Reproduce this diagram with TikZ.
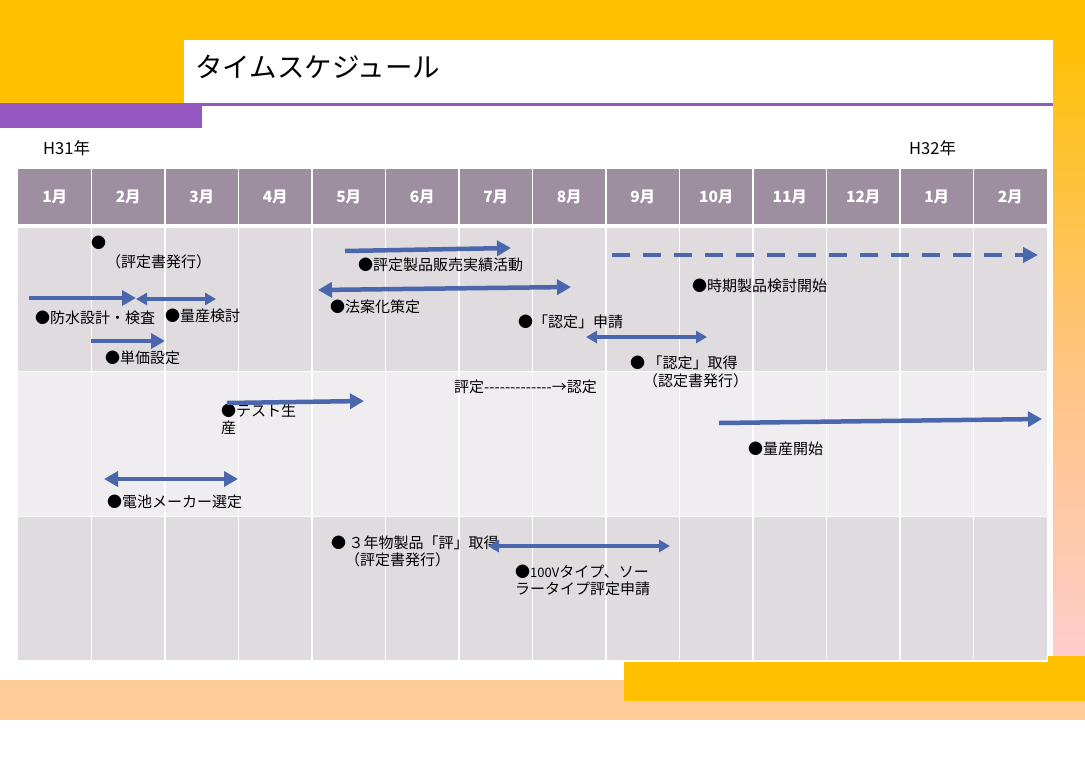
\documentclass[tikz,border=0pt]{standalone}
\usepackage{fontspec}
\newfontfamily\jp{Noto Sans CJK JP}
\usetikzlibrary{arrows.meta}
\definecolor{gold}{HTML}{FFC000}
\definecolor{purp}{HTML}{9457C2}
\definecolor{peach}{HTML}{FFCC99}
\definecolor{pinkc}{HTML}{FFCCCC}
\definecolor{midc}{HTML}{FFC47A}
\definecolor{hdr}{HTML}{9D8FA0}
\definecolor{rowa}{HTML}{DFDBDF}
\definecolor{rowb}{HTML}{EFEDF0}
\definecolor{arrowblue}{HTML}{4A67AE}
\tikzset{
  txt/.style={anchor=west, inner sep=0pt, text=black, font=\jp\fontsize{15}{18}\selectfont},
  hdrtxt/.style={inner sep=0pt, text=white, font=\jp\bfseries\fontsize{15.5}{18}\selectfont},
  bigarr/.style={draw=arrowblue, line width=4.5pt, -{Triangle[length=14pt,width=15pt]}},
  bigdarr/.style={draw=arrowblue, line width=4.5pt, {Triangle[length=14pt,width=15pt]}-{Triangle[length=14pt,width=15pt]}},
  thindarr/.style={draw=arrowblue, line width=3.5pt, {Triangle[length=11pt,width=12pt]}-{Triangle[length=11pt,width=12pt]}},
  dasharr/.style={draw=arrowblue, line width=4.5pt, dash pattern=on 18pt off 13pt, -{Triangle[length=15pt,width=15pt]}}
}
\begin{document}
\begin{tikzpicture}[x=1pt,y=-1pt]
\useasboundingbox (0,0) rectangle (1085,756);
\fill[white] (0,0) rectangle (1085,756);
% frame decorations
\fill[gold] (0,0) rectangle (1085,40);
\fill[gold] (0,0) rectangle (184,103);
\shade[top color=gold, bottom color=pinkc, middle color=midc] (1053,28) rectangle (1085,656);
\fill[purp] (184,103) rectangle (1053,106);
\fill[purp] (0,103) rectangle (202,128);
\fill[peach] (0,680) rectangle (1085,720);
\fill[gold] (624,662) rectangle (1085,701);
\fill[gold] (1048,656) rectangle (1085,662);
% title and years
\node[anchor=west, inner sep=0pt, font=\jp\fontsize{27.5}{30}\selectfont] (title) at (195,67) {タイムスケジュール};
\node[txt, font=\jp\fontsize{16.5}{19}\selectfont] (y31) at (43,148) {H31年};
\node[txt, font=\jp\fontsize{16.5}{19}\selectfont] (y32) at (909,148) {H32年};
% table
\fill[hdr] (18,169) rectangle (1047,224);
\fill[rowa] (18,228) rectangle (1047,371);
\fill[rowb] (18,372) rectangle (1047,516);
\fill[rowa] (18,517) rectangle (1047,660);
\foreach \i in {1,...,13} \draw[white, line width=1.3pt] (18+\i*73.5,169) -- (18+\i*73.5,660);
\foreach \lab [count=\i] in {1,2,3,4,5,6,7,8,9,10,11,12,1,2}
  \node[hdrtxt] (m\i) at (18+\i*73.5-36.75,197) {\lab 月};
% texts
\node[txt] (d0) at (91,243) {●};
\node[txt] (t1) at (106,262) {（評定書発行）};
\node[txt] (t2) at (35,318) {●防水設計・検査};
\node[txt] (t3) at (165,316) {●量産検討};
\node[txt] (t4) at (105,358) {●単価設定};
\node[txt] (t5) at (358,265) {●評定製品販売実績活動};
\node[txt] (t6) at (330,307) {●法案化策定};
\node[txt] (t7) at (518,322) {●「認定」申請};
\node[txt] (t8) at (692,286) {●時期製品検討開始};
\node[txt] (t9) at (630,363) {●\,「認定」取得};
\node[txt] (t10) at (643,381) {（認定書発行）};
\node[txt] (t11) at (454,387) {評定-------------→認定};
\node[txt] (t12) at (221,411) {●テスト生};
\node[txt] (t13) at (221,428) {産};
\node[txt] (t14) at (107,502) {●電池メーカー選定};
\node[txt] (t15) at (748,449) {●量産開始};
\node[txt] (t16) at (331,543) {●\,３年物製品「評」取得};
\node[txt] (t17) at (345,560) {（評定書発行）};
\node[txt] (t18) at (515,572) {●{\fontsize{13}{15}\selectfont 100V}タイプ、ソー};
\node[txt] (t19) at (515,589) {ラータイプ評定申請};
% arrow end points
\coordinate (a1s) at (29,298);   \coordinate (a1e) at (136,298);
\coordinate (a2s) at (136,299);  \coordinate (a2e) at (216,299);
\coordinate (a3s) at (91,341);   \coordinate (a3e) at (165,341);
\coordinate (a4s) at (345,251);  \coordinate (a4e) at (511,248);
\coordinate (a5s) at (318,290);  \coordinate (a5e) at (571,287);
\coordinate (a6s) at (612,255);  \coordinate (a6e) at (1038,255);
\coordinate (a7s) at (586,337);  \coordinate (a7e) at (707,337);
\coordinate (a8s) at (227,403);  \coordinate (a8e) at (364,401);
\coordinate (a9s) at (104,479);  \coordinate (a9e) at (238,479);
\coordinate (a10s) at (719,423); \coordinate (a10e) at (1042,419);
\coordinate (a11s) at (488,546); \coordinate (a11e) at (670,546);
% arrows
\draw[bigarr] (a1s) -- (a1e);
\draw[thindarr] (a2s) -- (a2e);
\draw[bigarr] (a3s) -- (a3e);
\draw[bigarr] (a4s) -- (a4e);
\draw[bigdarr] (a5s) -- (a5e);
\draw[dasharr] (a6s) -- (a6e);
\draw[thindarr] (a7s) -- (a7e);
\draw[bigarr] (a8s) -- (a8e);
\draw[bigdarr] (a9s) -- (a9e);
\draw[bigarr] (a10s) -- (a10e);
\draw[thindarr] (a11s) -- (a11e);
\end{tikzpicture}
\end{document}
